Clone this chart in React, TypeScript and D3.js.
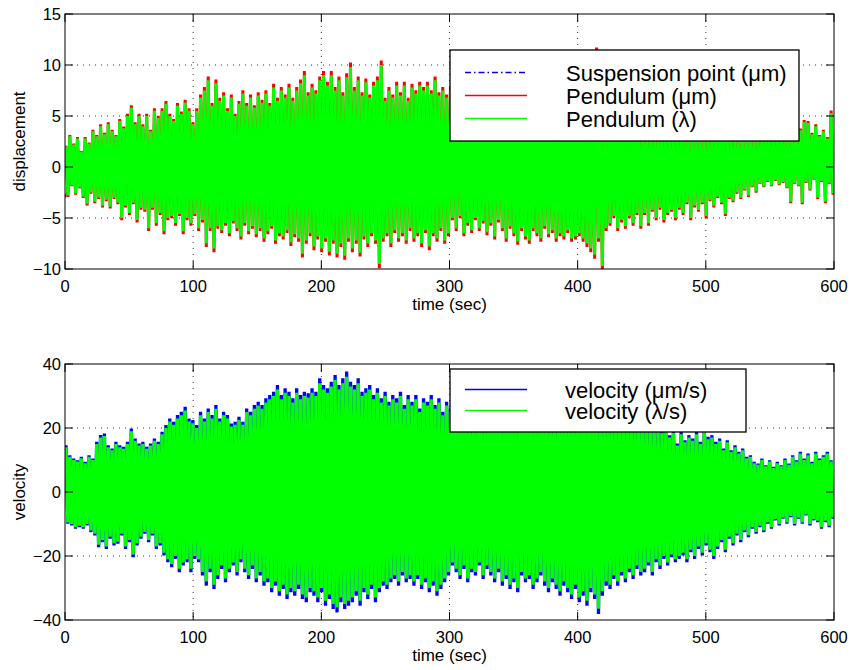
import React from "react";
import * as d3 from "d3";

// ---------- data ----------
// Time axis (sec) and tick labels
const xTicks = [0, 100, 200, 300, 400, 500, 600];
const xTickLabels = ["0", "100", "200", "300", "400", "500", "600"];
const dispTicks = [-10, -5, 0, 5, 10, 15];
const dispTickLabels = ["\u221210", "\u22125", "0", "5", "10", "15"];
const velTicks = [-40, -20, 0, 20, 40];
const velTickLabels = ["\u221240", "\u221220", "0", "20", "40"];

// Spacing (sec) between successive oscillation cycles in the peak lists
const CYCLE_SEC = 3;
// Ratio between the µm and λ curves as it appears in the picture
const UM_PER_LAMBDA = 1.045;

// Pendulum displacement (λ): successive maxima of each cycle
const dispHigh = [
  2.0, 3.0, 2.2, 2.8, 1.5, 2.8, 2.3, 3.5, 3.0, 4.0,
  3.2, 4.2, 3.5, 3.0, 4.5, 3.8, 5.0, 5.8, 4.2, 5.0,
  4.0, 5.0, 3.5, 5.5, 4.8, 5.5, 6.2, 5.0, 4.5, 6.0,
  5.2, 6.3, 5.5, 4.2, 5.5, 6.8, 7.5, 8.5, 6.0, 8.2,
  6.5, 7.0, 5.5, 6.8, 5.0, 6.2, 7.2, 6.0, 6.8, 5.8,
  7.0, 6.3, 7.2, 6.0, 7.8, 6.5, 7.5, 6.8, 7.8, 6.5,
  7.5, 8.2, 9.0, 7.0, 7.8, 7.2, 8.5, 9.0, 8.0, 9.0,
  7.5, 8.5, 7.0, 8.8, 9.8, 7.5, 8.5, 7.0, 8.3, 6.8,
  8.0, 8.5, 10.0, 6.5, 7.5, 6.8, 8.0, 7.0, 8.0, 6.5,
  7.8, 7.2, 8.0, 7.5, 8.0, 7.2, 8.5, 7.0, 7.5, 6.8,
  7.5, 6.8, 7.2, 6.5, 7.0, 6.2, 6.8, 6.0, 6.5, 5.8,
  6.5, 5.5, 6.2, 5.8, 6.0, 5.2, 6.3, 5.5, 6.0, 5.0,
  5.8, 5.0, 5.5, 4.8, 5.6, 5.2, 5.8, 4.6, 5.3, 5.0,
  5.5, 4.8, 5.2, 6.0, 5.0, 5.5, 4.8, 5.2, 11.2, 5.0,
  4.8, 5.0, 4.5, 4.8, 4.2, 4.6, 4.0, 4.5, 4.2, 3.8,
  4.2, 3.8, 4.0, 3.5, 4.0, 3.6, 3.8, 3.4, 3.6, 3.2,
  3.8, 3.2, 3.6, 3.0, 3.5, 3.2, 3.0, 3.4, 3.1, 2.9,
  3.3, 2.9, 3.2, 2.8, 3.0, 3.1, 2.8, 3.2, 2.9, 3.0,
  2.8, 3.1, 2.9, 3.2, 2.8, 3.0, 3.3, 2.9, 3.2, 3.5,
  3.0, 3.6, 4.4, 4.3, 3.2, 4.0, 3.0, 3.5, 2.8, 5.3,
];
// Pendulum displacement (λ): successive minima of each cycle
const dispLow = [
  -2.8, -1.8, -2.6, -2.0, -2.9, -3.6, -2.5, -3.4, -3.0, -3.8,
  -3.2, -3.9, -3.0, -3.5, -5.0, -3.8, -4.5, -3.5, -5.2, -4.0,
  -4.2, -6.0, -4.0, -5.5, -4.5, -6.3, -5.0, -4.8, -5.5, -4.6,
  -6.3, -5.0, -5.5, -4.6, -6.0, -5.2, -7.5, -6.0, -8.0, -5.8,
  -6.2, -5.5, -6.5, -5.3, -6.0, -6.8, -5.5, -6.3, -5.8, -6.6,
  -6.0, -7.0, -6.3, -5.8, -7.2, -6.5, -6.8, -6.2, -7.4, -6.6,
  -7.0, -8.5, -7.2, -6.5, -7.8, -6.8, -8.0, -7.0, -8.3, -7.2,
  -8.5, -7.5, -8.7, -7.0, -8.0, -7.2, -8.4, -6.8, -7.5, -6.5,
  -7.2, -9.5, -7.0, -6.5, -7.5, -6.2, -7.0, -6.5, -7.2, -6.0,
  -7.0, -6.5, -7.5, -6.2, -7.8, -6.5, -7.0, -6.0, -7.2, -6.5,
  -5.0, -6.0, -4.8, -6.5, -5.5, -6.2, -5.0, -6.0, -5.3, -6.4,
  -5.5, -6.8, -5.2, -6.0, -7.0, -5.8, -6.5, -7.3, -6.0, -6.8,
  -7.2, -6.0, -6.5, -7.0, -5.8, -6.6, -6.2, -7.0, -6.5, -6.8,
  -6.2, -7.0, -6.8, -6.5, -7.0, -7.5, -8.0, -8.6, -7.0, -9.7,
  -6.0, -5.5, -4.8, -6.0, -5.2, -5.8, -4.8, -5.5, -4.5, -5.8,
  -4.5, -5.5, -4.2, -5.0, -4.0, -5.2, -4.5, -4.2, -5.0, -4.0,
  -4.5, -3.5, -5.0, -3.8, -4.2, -3.5, -4.8, -3.2, -3.8, -2.9,
  -3.5, -4.6, -3.0, -3.3, -2.5, -3.0, -2.2, -2.8, -1.9, -2.4,
  -1.6, -1.9, -1.4, -1.8, -1.3, -1.7, -1.5, -2.0, -3.4, -1.6,
  -1.8, -3.5, -1.5, -2.2, -1.2, -3.0, -1.4, -3.4, -1.6, -2.6,
];
// Suspension point (µm), mostly hidden under the pendulum curves
const suspTimes = [0, 10, 20, 30, 40, 50, 60, 80, 100, 150, 200, 250, 300, 350, 400, 450, 500, 550, 600];
const suspValues = [-3.0, 0.5, -0.5, 0.8, -0.6, 0.4, -0.3, 0.6, -0.5, 0.3, -0.4, 0.5, -0.3, 0.4, -0.5, 0.3, 0.6, 0.8, 0.5];

// Velocity (λ/s): successive maxima of each cycle
const velHigh = [
  14, 11, 10, 9.5, 10.5, 9, 11, 10, 15, 17,
  17.5, 14, 13, 15, 14, 13.5, 15, 19, 16, 14.5,
  15, 13.5, 14.5, 16, 15, 18, 20, 22, 21, 23,
  24, 25.5, 22, 21.5, 20, 24, 22, 25, 23, 26,
  22, 24, 23, 20.5, 21, 22.5, 21, 25, 24, 26,
  27, 26, 28, 29, 30, 32, 29, 31, 30, 28,
  31, 29, 30, 29.5, 31, 30, 34, 32, 31, 33,
  35, 32, 34, 36, 33, 32, 34, 30, 31, 32,
  29, 31, 28, 30, 27, 29, 28, 30, 26, 29,
  27, 29, 25, 28, 27, 29, 26, 28, 24, 27,
  25, 27, 23, 26, 24, 25, 22, 26, 24, 23,
  25, 24, 26, 23, 25, 24, 26, 23, 25, 24,
  26, 24, 25, 23, 26, 24, 25, 23, 24, 26,
  24, 25, 26, 24, 27, 25, 26, 28, 25, 24,
  25, 23, 24, 22, 24, 21, 23, 22, 21, 23,
  22, 20, 21, 19, 20, 18.5, 19, 17, 18.5, 14.5,
  18, 15.5, 17, 16, 18, 15, 19, 16.5, 17, 15,
  16, 13, 15.5, 12.5, 14, 12, 13, 10.5, 11, 9,
  8.5, 10, 8, 9.5, 7.5, 9, 8, 10, 8.5, 11,
  9.5, 12, 10, 11.5, 9, 12, 10, 11, 12, 9.5,
];
// Velocity (λ/s): successive minima of each cycle
const velLow = [
  -9.5, -10, -11, -10.5, -11, -10, -12, -13, -16.5, -15,
  -17, -14, -16, -15.5, -13, -17, -15, -19.5, -16, -14,
  -12.5, -15, -13, -17, -16, -19, -21, -22.5, -20, -24,
  -22, -21, -24, -20, -21, -25, -28, -24, -29, -26,
  -23, -27, -24, -22, -25, -21, -24, -26, -23, -27,
  -25, -28, -27, -30, -28, -31, -29, -32, -30, -31,
  -29, -32, -33, -30, -31, -33, -30, -34, -32, -35,
  -36, -33, -35, -34, -33, -31, -34, -30, -32, -29,
  -33, -30, -28, -29, -27, -26, -28, -25, -27, -26,
  -28, -26, -29, -27, -30, -28, -31, -29, -27, -25,
  -22, -24, -26, -23, -27, -24, -25, -22, -26, -23,
  -25, -27, -24, -28, -26, -29, -27, -30, -25, -27,
  -26, -29, -27, -25, -28, -30, -27, -29, -31, -28,
  -30, -32, -29, -33, -31, -34, -30, -32, -36.5, -31,
  -28, -29, -26, -28, -25, -27, -24, -26, -23, -25,
  -24, -22, -25, -21, -23, -20, -22, -19.5, -21, -20,
  -19, -21, -18, -20, -17, -19, -16, -18, -20, -17,
  -15, -18, -14, -16, -13, -15, -12, -13.5, -11, -12.5,
  -10.5, -12, -9.5, -11, -8.5, -10, -8, -9.5, -7.5, -10,
  -8, -9.5, -7, -10, -8.5, -9, -11, -9, -10.5, -8,
];

const topLegend = ["Suspension point (\u03bcm)", "Pendulum (\u03bcm)", "Pendulum (\u03bb)"];
const bottomLegend = ["velocity (\u03bcm/s)", "velocity (\u03bb/s)"];

// ---------- layout ----------
const FONT = "'Liberation Sans', Arial, Helvetica, sans-serif";
const X0 = 65;
const X1 = 834;
const TICK = 8;

type Pt = [number, number];

function cycles(high: number[], low: number[], k: number): Pt[] {
  const pts: Pt[] = [];
  high.forEach((h, i) => {
    pts.push([i * CYCLE_SEC + CYCLE_SEC * 0.25, h * k]);
    pts.push([i * CYCLE_SEC + CYCLE_SEC * 0.75, low[i] * k]);
  });
  return pts;
}

interface PanelProps {
  top: number;
  bottom: number;
  yDomain: [number, number];
  yTicks: number[];
  yTickLabels: string[];
  yLabel: string;
  children: (x: d3.ScaleLinear<number, number>, y: d3.ScaleLinear<number, number>) => React.ReactNode;
  id: string;
}

function Panel({ top, bottom, yDomain, yTicks, yTickLabels, yLabel, children, id }: PanelProps) {
  const x = d3.scaleLinear().domain([0, 600]).range([X0, X1]);
  const y = d3.scaleLinear().domain(yDomain).range([bottom, top]);
  const grid = "#333";
  return (
    <g>
      <defs>
        <clipPath id={id}>
          <rect x={X0} y={top} width={X1 - X0} height={bottom - top} />
        </clipPath>
      </defs>
      <rect x={X0} y={top} width={X1 - X0} height={bottom - top} fill="#fff" />
      {xTicks.slice(1, -1).map((t) => (
        <line key={"gx" + t} x1={x(t)} x2={x(t)} y1={top} y2={bottom} stroke={grid} strokeWidth={1} strokeDasharray="1 5" />
      ))}
      {yTicks.slice(1, -1).map((t) => (
        <line key={"gy" + t} x1={X0} x2={X1} y1={y(t)} y2={y(t)} stroke={grid} strokeWidth={1} strokeDasharray="1 5" />
      ))}
      <g clipPath={`url(#${id})`}>{children(x, y)}</g>
      {xTicks.map((t) => (
        <g key={"tx" + t}>
          <line x1={x(t)} x2={x(t)} y1={bottom} y2={bottom - TICK} stroke="#000" />
          <line x1={x(t)} x2={x(t)} y1={top} y2={top + TICK} stroke="#000" />
        </g>
      ))}
      {yTicks.map((t) => (
        <g key={"ty" + t}>
          <line x1={X0} x2={X0 + TICK} y1={y(t)} y2={y(t)} stroke="#000" />
          <line x1={X1} x2={X1 - TICK} y1={y(t)} y2={y(t)} stroke="#000" />
        </g>
      ))}
      <rect x={X0} y={top} width={X1 - X0} height={bottom - top} fill="none" stroke="#000" strokeWidth={1} />
      {xTicks.map((t, i) => (
        <text key={"lx" + t} x={x(t)} y={bottom + 23} textAnchor="middle" fontSize={16.5} fontFamily={FONT}>
          {xTickLabels[i]}
        </text>
      ))}
      {yTicks.map((t, i) => (
        <text key={"ly" + t} x={X0 - 4} y={y(t) + 6} textAnchor="end" fontSize={16.5} fontFamily={FONT}>
          {yTickLabels[i]}
        </text>
      ))}
      <text x={(X0 + X1) / 2} y={bottom + 41} textAnchor="middle" fontSize={17} fontFamily={FONT}>
        time (sec)
      </text>
      <text
        transform={`translate(25, ${(top + bottom) / 2}) rotate(-90)`}
        textAnchor="middle"
        fontSize={17}
        fontFamily={FONT}
      >
        {yLabel}
      </text>
    </g>
  );
}

export default function App() {
  const W = 853;
  const H = 670;

  const dispLambda = cycles(dispHigh, dispLow, 1);
  const dispUm = cycles(dispHigh, dispLow, UM_PER_LAMBDA);
  const susp: Pt[] = suspTimes.map((t, i) => [t, suspValues[i]]);
  const velLambda = cycles(velHigh, velLow, 1);
  const velUm = cycles(velHigh, velLow, UM_PER_LAMBDA);

  const mkLine = (x: d3.ScaleLinear<number, number>, y: d3.ScaleLinear<number, number>) =>
    d3
      .line<Pt>()
      .x((d) => x(d[0]))
      .y((d) => y(d[1]));

  return (
    <svg width={W} height={H} viewBox={`0 0 ${W} ${H}`} style={{ display: "block", position: "absolute", left: 0, top: 0 }}>
      <rect width={W} height={H} fill="#fff" />
      <Panel
        id="clipTop"
        top={14}
        bottom={269}
        yDomain={[-10, 15]}
        yTicks={dispTicks}
        yTickLabels={dispTickLabels}
        yLabel="displacement"
      >
        {(x, y) => {
          const line = mkLine(x, y);
          return (
            <g fill="none" strokeLinejoin="bevel">
              <path d={line(susp) || ""} stroke="#0000ff" strokeWidth={1.2} strokeDasharray="6 3 1.5 3" />
              <path d={line(dispUm) || ""} stroke="#ff0000" strokeWidth={3} />
              <path d={line(dispLambda) || ""} stroke="#00ff00" strokeWidth={3} />
            </g>
          );
        }}
      </Panel>
      <Panel
        id="clipBottom"
        top={364}
        bottom={620}
        yDomain={[-40, 40]}
        yTicks={velTicks}
        yTickLabels={velTickLabels}
        yLabel="velocity"
      >
        {(x, y) => {
          const line = mkLine(x, y);
          return (
            <g fill="none" strokeLinejoin="bevel">
              <path d={line(velUm) || ""} stroke="#0000ff" strokeWidth={3.3} />
              <path d={line(velLambda) || ""} stroke="#00ff00" strokeWidth={3.3} />
            </g>
          );
        }}
      </Panel>

      {/* top legend */}
      <g fontFamily={FONT} fontSize={22}>
        <rect x={450} y={50} width={349} height={91} fill="#fff" stroke="#000" strokeWidth={1.3} />
        {topLegend.map((label, i) => {
          const cy = [72.5, 95.5, 118.5][i];
          const colors = ["#0000ff", "#ff0000", "#00ff00"];
          return (
            <g key={label}>
              <line
                x1={465}
                x2={527}
                y1={cy}
                y2={cy}
                stroke={colors[i]}
                strokeWidth={1.3}
                strokeDasharray={i === 0 ? "6 3 1.5 3" : undefined}
              />
              <text x={566} y={cy + 8}>
                {label}
              </text>
            </g>
          );
        })}
      </g>

      {/* bottom legend */}
      <g fontFamily={FONT} fontSize={22}>
        <rect x={450} y={369} width={296} height={63} fill="#fff" stroke="#000" strokeWidth={1.3} />
        {bottomLegend.map((label, i) => {
          const cy = [389.5, 410.5][i];
          const colors = ["#0000ff", "#00ff00"];
          return (
            <g key={label}>
              <line x1={465} x2={527} y1={cy} y2={cy} stroke={colors[i]} strokeWidth={1.3} />
              <text x={565} y={cy + 8}>
                {label}
              </text>
            </g>
          );
        })}
      </g>
    </svg>
  );
}
